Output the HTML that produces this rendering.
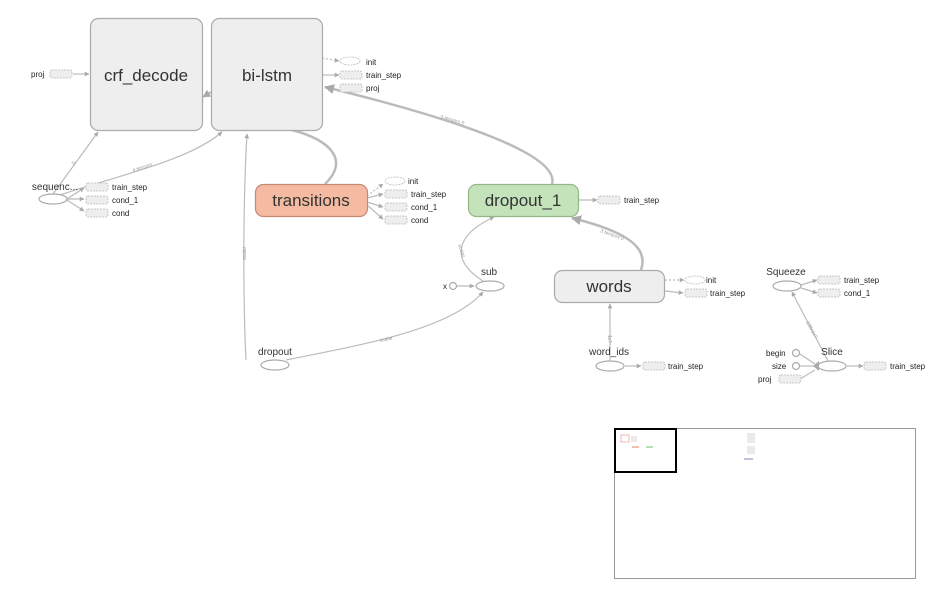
<!DOCTYPE html>
<html><head><meta charset="utf-8"><style>
body{margin:0;background:#fff;width:936px;height:595px;overflow:hidden}
svg{font-family:"Liberation Sans",sans-serif}
</style></head><body>
<svg width="936" height="595" viewBox="0 0 936 595">
<defs>
<marker id="a" viewBox="0 0 10 10" refX="9" refY="5" markerWidth="4" markerHeight="4" orient="auto"><path d="M0,0L10,5L0,10z" fill="#aaa"/></marker>
</defs>
<g fill="none" stroke="#bbb" stroke-width="1.2">
<path d="M53,194 L98,132" marker-end="url(#a)"/>
<path d="M60,195 C120,175 190,160 222,132" marker-end="url(#a)"/>
<path d="M211,92 L203,97" stroke-width="2" marker-end="url(#a)"/>
<path d="M246,360 C243,300 243,200 247,134" marker-end="url(#a)"/>
<path d="M325,184 C350,160 330,140 292,130" stroke-width="2.5"/>
<path d="M552,184 C560,155 460,120 325,87" stroke-width="2.5" marker-end="url(#a)"/>
<path d="M641,270 C650,245 620,230 572,218" stroke-width="2.5" marker-end="url(#a)"/>
<path d="M286,360 C360,345 450,330 483,292" marker-end="url(#a)"/>
<path d="M483,281 C450,260 455,235 494,217" marker-end="url(#a)"/>
<path d="M457,286 L474,286" marker-end="url(#a)"/>
<path d="M610,361 L610,304" marker-end="url(#a)"/>
<path d="M828,361 L792,292" marker-end="url(#a)"/>
<path d="M800,354 L815,364"/><path d="M800,366 L815,366"/><path d="M800,379 L815,370"/>
<path d="M73,74 L89,74" marker-end="url(#a)"/>
<path d="M67,199 L84,188" marker-end="url(#a)"/>
<path d="M67,199 L84,199" marker-end="url(#a)"/>
<path d="M67,200 L84,211" marker-end="url(#a)"/>
<path d="M322,58 L339,61" stroke-dasharray="2,2" marker-end="url(#a)"/>
<path d="M323,75 L339,75" marker-end="url(#a)"/>
<path d="M367,196 L383,184" stroke-dasharray="2,2" marker-end="url(#a)"/>
<path d="M367,198 L383,194" marker-end="url(#a)"/>
<path d="M367,202 L383,207" marker-end="url(#a)"/>
<path d="M367,205 L383,219" marker-end="url(#a)"/>
<path d="M579,200 L597,200" marker-end="url(#a)"/>
<path d="M665,280 L684,280" stroke-dasharray="2,2" marker-end="url(#a)"/>
<path d="M665,291 L683,293" marker-end="url(#a)"/>
<path d="M625,366 L641,366" marker-end="url(#a)"/>
<path d="M801,285 L817,280" marker-end="url(#a)"/>
<path d="M801,288 L817,293" marker-end="url(#a)"/>
<path d="M847,366 L863,366" marker-end="url(#a)"/>
</g>
<g font-size="5" fill="#999">
<text x="74" y="165" transform="rotate(-55 74 165)">0</text>
<text x="133" y="172" transform="rotate(-18 133 172)">4 tensors</text>
<text x="440" y="118" transform="rotate(16 440 118)">3 tensors 0</text>
<text x="600" y="232" transform="rotate(20 600 232)">3 tensors 0</text>
<text x="246" y="260" transform="rotate(-90 246 260)">scalar</text>
<text x="380" y="342" transform="rotate(-12 380 342)">scalar</text>
<text x="458" y="245" transform="rotate(70 458 245)">scalar</text>
<text x="608" y="335" transform="rotate(90 608 335)">1x?</text>
<text x="806" y="322" transform="rotate(62 806 322)">128x1x?</text>
</g>
<rect x="90.5" y="18.5" width="112" height="112" rx="8" fill="#eee" stroke="#aaa" stroke-width="1.2"/>
<rect x="211.5" y="18.5" width="111" height="112" rx="8" fill="#eee" stroke="#aaa" stroke-width="1.2"/>
<rect x="255.5" y="184.5" width="112" height="32" rx="8" fill="#f4bba2" stroke="#c48a74" stroke-width="1.2"/>
<rect x="468.5" y="184.5" width="110" height="32" rx="8" fill="#c5e3bb" stroke="#94b788" stroke-width="1.2"/>
<rect x="554.5" y="270.5" width="110" height="32" rx="8" fill="#eee" stroke="#aaa" stroke-width="1.2"/>
<g font-size="17" fill="#333" text-anchor="middle">
<text x="146" y="81">crf_decode</text>
<text x="267" y="81">bi-lstm</text>
<text x="311" y="206">transitions</text>
<text x="523" y="206">dropout_1</text>
<text x="609" y="292">words</text>
</g>
<g fill="#fff" stroke="#aaa" stroke-width="1.2">
<ellipse cx="53" cy="199" rx="14" ry="5"/>
<ellipse cx="490" cy="286" rx="14" ry="5"/>
<ellipse cx="275" cy="365" rx="14" ry="5"/>
<ellipse cx="610" cy="366" rx="14" ry="5"/>
<ellipse cx="787" cy="286" rx="14" ry="5"/>
<ellipse cx="832" cy="366" rx="14" ry="5"/>
<circle cx="453" cy="286" r="3.5"/>
<circle cx="796" cy="353" r="3.5"/>
<circle cx="796" cy="366" r="3.5"/>
</g>
<path d="M813,366 L819,361 L819,371z" fill="#aaa"/>
<g fill="#eee" stroke="#bbb" stroke-width="0.8" stroke-dasharray="2,1">
<rect x="50" y="70" width="22" height="8" rx="2"/>
<rect x="340" y="71" width="22" height="8" rx="2"/>
<rect x="340" y="84" width="22" height="8" rx="2"/>
<rect x="86" y="183" width="22" height="8" rx="2"/>
<rect x="86" y="196" width="22" height="8" rx="2"/>
<rect x="86" y="209" width="22" height="8" rx="2"/>
<rect x="385" y="190" width="22" height="8" rx="2"/>
<rect x="385" y="203" width="22" height="8" rx="2"/>
<rect x="385" y="216" width="22" height="8" rx="2"/>
<rect x="598" y="196" width="22" height="8" rx="2"/>
<rect x="685" y="289" width="22" height="8" rx="2"/>
<rect x="643" y="362" width="22" height="8" rx="2"/>
<rect x="818" y="276" width="22" height="8" rx="2"/>
<rect x="818" y="289" width="22" height="8" rx="2"/>
<rect x="779" y="375" width="22" height="8" rx="2"/>
<rect x="864" y="362" width="22" height="8" rx="2"/>
<ellipse cx="350" cy="61" rx="10" ry="4" fill="#fff"/>
<ellipse cx="395" cy="181" rx="10" ry="4" fill="#fff"/>
<ellipse cx="695" cy="280" rx="10" ry="4" fill="#fff"/>
</g>
<g font-size="8" fill="#222">
<text x="31" y="77">proj</text>
<text x="366" y="65">init</text>
<text x="366" y="78">train_step</text>
<text x="366" y="91">proj</text>
<text x="112" y="190">train_step</text>
<text x="112" y="203">cond_1</text>
<text x="112" y="216">cond</text>
<text x="408" y="184">init</text>
<text x="411" y="197">train_step</text>
<text x="411" y="210">cond_1</text>
<text x="411" y="223">cond</text>
<text x="624" y="203">train_step</text>
<text x="706" y="283">init</text>
<text x="710" y="296">train_step</text>
<text x="668" y="369">train_step</text>
<text x="844" y="283">train_step</text>
<text x="844" y="296">cond_1</text>
<text x="890" y="369">train_step</text>
<text x="443" y="289">x</text>
<text x="766" y="356">begin</text>
<text x="772" y="369">size</text>
<text x="758" y="382">proj</text>
</g>
<g font-size="10" fill="#333" text-anchor="middle">
<text x="55" y="190">sequenc...</text>
<text x="489" y="275">sub</text>
<text x="275" y="355">dropout</text>
<text x="609" y="355">word_ids</text>
<text x="786" y="275">Squeeze</text>
<text x="832" y="355">Slice</text>
</g>
<rect x="614.5" y="428.5" width="301" height="150" fill="#fff" stroke="#999"/>
<g opacity="0.6">
<rect x="621" y="435" width="8" height="7" fill="none" stroke="#e88"/>
<rect x="631" y="436" width="6" height="6" fill="#ddd"/>
<rect x="632" y="446" width="7" height="2" fill="#e8967a"/>
<rect x="646" y="446" width="7" height="2" fill="#8c8"/>
<rect x="744" y="458" width="9" height="2" fill="#99c"/>
<rect x="747" y="433" width="8" height="10" fill="#ddd"/>
<rect x="747" y="446" width="8" height="8" fill="#ddd"/>
</g>
<rect x="615" y="429" width="61" height="43" fill="none" stroke="#000" stroke-width="2"/>
</svg>
</body></html>
